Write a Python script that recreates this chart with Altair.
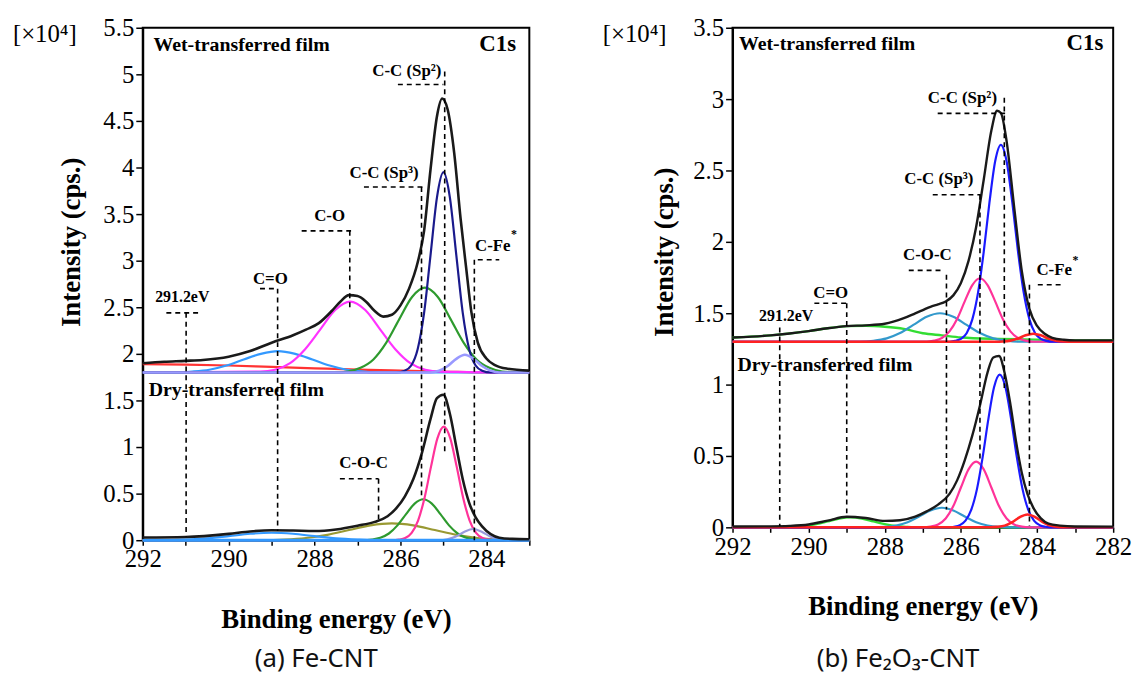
import altair as alt
import pandas as pd

SERIF = "Liberation Serif, Times New Roman, Tinos, serif"

# ---------------- data: (binding energy eV, intensity x1e4) ----------------
A_WET_BG = [(292, 1.89), (291, 1.885), (290, 1.875), (289, 1.86), (288, 1.845), (287, 1.83),
            (286, 1.82), (285, 1.81), (284, 1.80), (283, 1.80)]
A_WET_CO2 = [(292, 1.80), (291.25, 1.80), (290.85, 1.81), (290.45, 1.83), (290.05, 1.875), (289.65, 1.94),
             (289.25, 2.00), (288.85, 2.03), (288.45, 2.00), (288.05, 1.94), (287.65, 1.875), (287.25, 1.83),
             (286.85, 1.81), (286.45, 1.80), (283, 1.80)]
A_WET_CO = [(292, 1.80), (289.27, 1.81), (288.92, 1.83), (288.57, 1.90), (288.22, 2.05), (287.87, 2.26),
            (287.52, 2.47), (287.17, 2.56), (286.82, 2.47), (286.47, 2.26), (286.12, 2.05), (285.77, 1.90),
            (285.42, 1.83), (285.07, 1.81), (283, 1.80)]
A_WET_SP3 = [(292, 1.80), (287.53, 1.80), (287.23, 1.81), (286.93, 1.85), (286.63, 1.94), (286.33, 2.12),
             (286.03, 2.37), (285.73, 2.61), (285.43, 2.71), (285.13, 2.61), (284.83, 2.37), (284.53, 2.12),
             (284.23, 1.94), (283.93, 1.85), (283.63, 1.81), (283, 1.80)]
A_WET_SP2 = [(292, 1.80), (286.1, 1.80), (285.9, 1.82), (285.75, 1.875), (285.6, 2.05), (285.45, 2.44),
             (285.3, 3.06), (285.15, 3.68), (285.0, 3.95), (284.85, 3.68), (284.7, 3.06), (284.55, 2.44),
             (284.4, 2.05), (284.25, 1.875), (284.1, 1.82), (283.9, 1.80), (283, 1.80)]
A_WET_CFE = [(292, 1.80), (285.3, 1.80), (285.1, 1.82), (284.9, 1.87), (284.7, 1.947), (284.5, 1.99),
             (284.3, 1.947), (284.1, 1.87), (283.9, 1.82), (283.7, 1.80), (283, 1.80)]
A_WET_ENV = [(292, 1.90), (291.5, 1.915), (291, 1.925), (290.6, 1.935), (290, 1.97), (289.5, 2.03),
             (289, 2.12), (288.5, 2.20), (288.2, 2.26), (287.9, 2.33), (287.6, 2.46), (287.4, 2.56),
             (287.2, 2.63), (287.0, 2.62), (286.8, 2.56), (286.6, 2.46), (286.4, 2.40), (286.2, 2.42),
             (286.0, 2.52), (285.8, 2.70), (285.6, 2.98), (285.45, 3.32), (285.3, 3.98), (285.15, 4.55),
             (285.03, 4.74), (284.9, 4.62), (284.75, 4.16), (284.6, 3.45), (284.47, 2.92), (284.35, 2.45),
             (284.2, 2.12), (284.0, 1.95), (283.8, 1.88), (283.5, 1.84), (283.0, 1.82)]

A_DRY_BASE = [(292, 0.0), (283, 0.0)]
A_DRY_CO2 = [(292, 0.0), (291.5, 0.0), (291, 0.007), (290.5, 0.02), (290, 0.043), (289.5, 0.069), (289, 0.08),
             (288.5, 0.069), (288, 0.043), (287.5, 0.02), (287, 0.007), (286.5, 0.0), (283, 0.0)]
A_DRY_COC = [(292, 0.0), (289.2, 0.002), (288.7, 0.008), (288.2, 0.024), (287.7, 0.058), (287.2, 0.109),
             (286.7, 0.159), (286.2, 0.18), (285.7, 0.159), (285.2, 0.109), (284.7, 0.058), (284.2, 0.024),
             (283.7, 0.008), (283.2, 0.002), (283, 0.0)]
A_DRY_SP3 = [(292, 0.0), (286.87, 0.0), (286.67, 0.007), (286.47, 0.026), (286.27, 0.072), (286.07, 0.159),
             (285.87, 0.28), (285.67, 0.393), (285.47, 0.44), (285.27, 0.393), (285.07, 0.28), (284.87, 0.159),
             (284.67, 0.072), (284.47, 0.026), (284.27, 0.007), (284.07, 0.0), (283, 0.0)]
A_DRY_SP2 = [(292, 0.0), (286.19, 0.0), (286.04, 0.006), (285.89, 0.023), (285.74, 0.079), (285.59, 0.211),
             (285.44, 0.454), (285.29, 0.787), (285.14, 1.093), (284.99, 1.22), (284.84, 1.093), (284.69, 0.787),
             (284.54, 0.454), (284.39, 0.211), (284.24, 0.079), (284.09, 0.023), (283.94, 0.006), (283.79, 0.0),
             (283, 0.0)]
A_DRY_CFE = [(292, 0.0), (285.11, 0.0), (284.91, 0.01), (284.71, 0.04), (284.51, 0.091), (284.31, 0.12),
             (284.11, 0.091), (283.91, 0.04), (283.71, 0.01), (283.51, 0.0), (283, 0.0)]
A_DRY_ENV = [(292, 0.030), (291, 0.035), (290, 0.068), (289.5, 0.094), (289, 0.107), (288.5, 0.104),
             (288, 0.099), (287.5, 0.116), (287, 0.156), (286.6, 0.197), (286.3, 0.258), (286.1, 0.341),
             (285.9, 0.468), (285.7, 0.657), (285.5, 0.938), (285.3, 1.302), (285.15, 1.524), (285.0, 1.561),
             (284.85, 1.357), (284.7, 1.003), (284.55, 0.654), (284.4, 0.401), (284.25, 0.246), (284.1, 0.148),
             (283.9, 0.065), (283.7, 0.027), (283.4, 0.014), (283, 0.011)]

B_WET_GRN = [(292, 1.33), (291, 1.345), (290, 1.375), (289.5, 1.395), (289, 1.41), (288.5, 1.412), (288, 1.405),
             (287.5, 1.39), (287, 1.36), (286.5, 1.345), (286, 1.33), (285, 1.32), (284, 1.315), (283, 1.31),
             (282, 1.31)]
B_WET_COC = [(292, 1.30), (288.65, 1.30), (288.3, 1.307), (287.95, 1.324), (287.6, 1.361), (287.25, 1.418),
             (286.9, 1.475), (286.55, 1.50), (286.2, 1.475), (285.85, 1.418), (285.5, 1.361), (285.15, 1.324),
             (284.8, 1.307), (284.45, 1.30), (282, 1.30)]
B_WET_SP3 = [(292, 1.30), (286.9, 1.30), (286.7, 1.308), (286.5, 1.326), (286.3, 1.373), (286.1, 1.46),
             (285.9, 1.583), (285.7, 1.697), (285.5, 1.745), (285.3, 1.697), (285.1, 1.583), (284.9, 1.46),
             (284.7, 1.373), (284.5, 1.326), (284.3, 1.308), (284.1, 1.30), (282, 1.30)]
B_WET_SP2 = [(292, 1.30), (286.3, 1.30), (286.15, 1.306), (286.0, 1.32), (285.85, 1.36), (285.7, 1.457),
             (285.55, 1.644), (285.4, 1.932), (285.25, 2.276), (285.1, 2.565), (284.95, 2.68), (284.8, 2.565),
             (284.65, 2.276), (284.5, 1.932), (284.35, 1.644), (284.2, 1.457), (284.05, 1.36), (283.9, 1.32),
             (283.75, 1.306), (283.6, 1.30), (282, 1.30)]
B_WET_CFE = [(292, 1.30), (285.1, 1.30), (284.9, 1.302), (284.7, 1.308), (284.5, 1.323), (284.3, 1.345),
             (284.1, 1.356), (283.9, 1.345), (283.7, 1.323), (283.5, 1.308), (283.3, 1.302), (283.1, 1.30),
             (282, 1.30)]
B_WET_ENV = [(292, 1.33), (291.5, 1.336), (291, 1.345), (290.5, 1.358), (290, 1.375), (289.5, 1.395),
             (289, 1.41), (288.5, 1.415), (288, 1.426),
             (287.5, 1.465), (287.2, 1.499), (287.0, 1.522), (286.8, 1.545), (286.6, 1.562), (286.4, 1.582),
             (286.2, 1.625), (286.0, 1.712), (285.8, 1.867), (285.6, 2.104), (285.4, 2.437), (285.2, 2.78),
             (285.05, 2.918), (284.95, 2.903), (284.8, 2.706), (284.6, 2.24), (284.4, 1.794), (284.2, 1.53),
             (284.0, 1.411), (283.8, 1.356), (283.6, 1.328), (283.3, 1.314), (283, 1.31), (282, 1.31)]

B_DRY_GRN = [(292, 0.0), (290.7, 0.0), (290.4, 0.003), (290.1, 0.009), (289.8, 0.023), (289.5, 0.042),
             (289.2, 0.062), (288.9, 0.07), (288.6, 0.062), (288.3, 0.042), (288.0, 0.023), (287.7, 0.009),
             (287.4, 0.003), (287.1, 0.0), (282, 0.0)]
B_DRY_COC = [(292, 0.0), (288.3, 0.0), (288.0, 0.003), (287.7, 0.013), (287.4, 0.036), (287.1, 0.076),
             (286.8, 0.118), (286.5, 0.137), (286.2, 0.118), (285.9, 0.076), (285.6, 0.036), (285.3, 0.013),
             (285.0, 0.003), (284.7, 0.0), (282, 0.0)]
B_DRY_SP3 = [(292, 0.0), (287.0, 0.0), (286.8, 0.005), (286.6, 0.02), (286.4, 0.062), (286.2, 0.149),
             (286.0, 0.279), (285.8, 0.406), (285.6, 0.46), (285.4, 0.406), (285.2, 0.279), (285.0, 0.149),
             (284.8, 0.062), (284.6, 0.02), (284.4, 0.005), (284.2, 0.0), (282, 0.0)]
B_DRY_SP2 = [(292, 0.0), (286.33, 0.0), (286.18, 0.004), (286.03, 0.015), (285.88, 0.047), (285.73, 0.122),
             (285.58, 0.266), (285.43, 0.49), (285.28, 0.756), (285.13, 0.981), (284.98, 1.07), (284.83, 0.981),
             (284.68, 0.756), (284.53, 0.49), (284.38, 0.266), (284.23, 0.122), (284.08, 0.047), (283.93, 0.015),
             (283.78, 0.004), (283.63, 0.0), (282, 0.0)]
B_DRY_CFE = [(292, 0.0), (285.25, 0.0), (285.05, 0.003), (284.85, 0.012), (284.65, 0.037), (284.45, 0.072),
             (284.25, 0.09), (284.05, 0.072), (283.85, 0.037), (283.65, 0.012), (283.45, 0.003), (283.25, 0.0),
             (282, 0.0)]
B_DRY_ENV = [(292, 0.006), (291, 0.007), (290.5, 0.010), (290, 0.020), (289.5, 0.047), (289, 0.074),
             (288.5, 0.065), (288, 0.045), (287.6, 0.050), (287.2, 0.075), (286.9, 0.112), (286.6, 0.159),
             (286.3, 0.234), (286.1, 0.329), (285.9, 0.469), (285.7, 0.644), (285.5, 0.854), (285.3, 1.086),
             (285.15, 1.19), (285.0, 1.20), (284.85, 1.08), (284.7, 0.861), (284.55, 0.599), (284.4, 0.381),
             (284.25, 0.233), (284.1, 0.138), (283.9, 0.063), (283.7, 0.026), (283.4, 0.012), (283, 0.006),
             (282, 0.005)]

A_DASH = [(286.06, 4.89, 285.0, 4.89), (284.97, 5.03, 284.97, 0.94),
          (286.85, 3.79, 285.42, 3.79), (285.51, 3.79, 285.51, 0.44),
          (288.30, 3.32, 287.15, 3.32), (287.18, 3.32, 287.18, 2.48),
          (289.27, 2.70, 288.86, 2.70), (288.86, 2.70, 288.86, 0.10),
          (291.45, 2.44, 290.64, 2.44), (290.99, 2.44, 290.99, 0.04),
          (284.20, 3.01, 283.70, 3.01), (284.28, 3.01, 284.28, 0.0),
          (287.41, 0.66, 286.51, 0.66), (286.51, 0.66, 286.51, 0.19)]
B_DASH = [(286.61, 2.90, 284.74, 2.90), (284.86, 3.01, 284.86, 0.97),
          (286.74, 2.33, 285.48, 2.33), (285.50, 2.33, 285.50, 0.47),
          (287.37, 1.80, 286.48, 1.80), (286.38, 1.77, 286.38, 0.125),
          (289.85, 1.57, 289.00, 1.57), (289.00, 1.57, 289.00, 0.07),
          (290.76, 1.40, 290.76, 0.01),
          (283.98, 1.70, 283.37, 1.70), (284.20, 1.70, 284.20, 0.01)]

A_FILM = [("Wet-transferred film", 291.75, 5.245), ("Dry-transferred film", 291.86, 1.545)]
A_C1S = [("C1s", 283.31, 5.245)]
A_PEAK = [("C-C (Sp²)", 285.85, 4.98), ("C-C (Sp³)", 286.38, 3.89), ("C-O", 287.65, 3.43),
          ("C=O", 289.03, 2.75), ("C-O-C", 286.86, 0.77), ("C-Fe", 283.85, 3.10)]
A_EV = [("291.2eV", 291.08, 2.556)]
A_STAR = [("*", 283.36, 3.245)]

B_FILM = [("Wet-transferred film", 291.83, 3.342), ("Dry-transferred film", 291.87, 1.097)]
B_C1S = [("C1s", 282.26, 3.342)]
B_PEAK = [("C-C (Sp²)", 285.96, 2.97), ("C-C (Sp³)", 286.58, 2.405), ("C-O-C", 286.88, 1.873),
          ("C=O", 289.42, 1.606), ("C-Fe", 283.55, 1.77)]
B_EV = [("291.2eV", 290.59, 1.444)]
B_STAR = [("*", 282.99, 1.847)]

A_XTICKS = list(range(283, 293))
B_XTICKS = list(range(282, 293))
A_YTICKS = [i * 0.5 for i in range(0, 12)]
B_YTICKS = [i * 0.5 for i in range(0, 8)]


def pts(p):
    return pd.DataFrame(p, columns=["e", "v"])


def lbl(p):
    return pd.DataFrame(p, columns=["t", "e", "v"])


def panel(xdom, xticks, ydom, yticks, w, h, curves, dashes, film, c1s, peaks, ev, star,
          ytx, yty, caption, cap_x):
    X = alt.X("e:Q", scale=alt.Scale(domain=xdom, reverse=True, nice=False, zero=False),
              axis=alt.Axis(values=xticks, format="d",
                            labelExpr="datum.value % 2 == 0 ? datum.label : ''",
                            title="Binding energy (eV)", titleFont=SERIF, titleFontSize=27,
                            titleFontWeight="bold", titleColor="black", titlePadding=35,
                            labelFont=SERIF, labelFontSize=25, labelColor="black", labelPadding=2,
                            labelFlush=False, labelOverlap=False,
                            tickSize=5, tickWidth=1.5, tickColor="black",
                            domainColor="black", domainWidth=2, grid=False))
    Y = alt.Y("v:Q", scale=alt.Scale(domain=ydom, nice=False, zero=False),
              axis=alt.Axis(values=yticks, format=".1~f",
                            title="Intensity (cps.)", titleFont=SERIF, titleFontSize=27,
                            titleFontWeight="bold", titleColor="black", titleAngle=270,
                            titleX=ytx, titleY=yty, titleAlign="center", titleBaseline="alphabetic",
                            labelFont=SERIF, labelFontSize=25, labelColor="black", labelPadding=2,
                            labelFlush=False, labelOverlap=False,
                            tickSize=7, tickWidth=1.5, tickColor="black",
                            domainColor="black", domainWidth=2, grid=False))
    layers = []
    for p, color, sw in curves:
        layers.append(alt.Chart(pts(p)).mark_line(color=color, strokeWidth=sw, interpolate="monotone")
                      .encode(x=X, y=Y))
    ddf = pd.DataFrame(dashes, columns=["e", "v", "e2", "v2"])
    layers.append(alt.Chart(ddf).mark_rule(color="black", strokeWidth=1.6, strokeDash=[5, 4])
                  .encode(x=X, y=Y, x2="e2:Q", y2="v2:Q"))
    layers.append(alt.Chart(lbl(film)).mark_text(font=SERIF, fontWeight="bold", fontSize=20, align="left",
                                                 baseline="alphabetic", color="black")
                  .encode(x=X, y=Y, text="t:N"))
    layers.append(alt.Chart(lbl(c1s)).mark_text(font=SERIF, fontWeight="bold", fontSize=23, align="right",
                                                baseline="alphabetic", color="black")
                  .encode(x=X, y=Y, text="t:N"))
    layers.append(alt.Chart(lbl(peaks)).mark_text(font=SERIF, fontWeight="bold", fontSize=17, align="center",
                                                  baseline="alphabetic", color="black")
                  .encode(x=X, y=Y, text="t:N"))
    layers.append(alt.Chart(lbl(ev)).mark_text(font=SERIF, fontWeight="bold", fontSize=16, align="center",
                                               baseline="alphabetic", color="black")
                  .encode(x=X, y=Y, text="t:N"))
    layers.append(alt.Chart(lbl(star)).mark_text(font=SERIF, fontWeight="bold", fontSize=12, align="center",
                                                 baseline="alphabetic", color="black")
                  .encode(x=X, y=Y, text="t:N"))
    layers.append(alt.Chart(pd.DataFrame({"t": ["[×10⁴]"]}))
                  .mark_text(font=SERIF, fontSize=25, align="left", baseline="alphabetic", color="black")
                  .encode(x=alt.value(-131), y=alt.value(14), text="t:N"))
    layers.append(alt.Chart(pd.DataFrame({"t": [caption]}))
                  .mark_text(font="Noto Sans", fontSize=26, align="center", baseline="middle", color="#111111")
                  .encode(x=alt.value(cap_x), y=alt.value(637), text="t:N"))
    return alt.layer(*layers).properties(width=w, height=h)


ENV_C = "#1a1a1a"
left = panel([283, 292], A_XTICKS, [0, 5.5], A_YTICKS, 390, 517,
             [(A_WET_BG, "#ff3333", 2.2), (A_WET_CO2, "#3399ff", 2.2), (A_WET_CO, "#ff33ff", 2.2),
              (A_WET_SP3, "#2e9a2e", 2.2), (A_WET_SP2, "#1a1a8c", 2.2), (A_WET_CFE, "#9999ff", 2.6),
              (A_WET_ENV, ENV_C, 2.6),
              (A_DRY_COC, "#999933", 2.2), (A_DRY_CO2, "#3399ff", 2.2), (A_DRY_SP3, "#2e9a2e", 2.2),
              (A_DRY_SP2, "#ff3399", 2.2), (A_DRY_CFE, "#9999dd", 2.2), (A_DRY_BASE, "#3399ff", 3.2),
              (A_DRY_ENV, ENV_C, 2.6)],
             A_DASH, A_FILM, A_C1S, A_PEAK, A_EV, A_STAR, -64, 216, "(a) Fe-CNT", 175)

right = panel([282, 292], B_XTICKS, [0, 3.5], B_YTICKS, 384, 504,
              [(B_WET_GRN, "#33dd33", 2.4), (B_WET_COC, "#3399cc", 2.2), (B_WET_SP3, "#ff3399", 2.2),
               (B_WET_SP2, "#1a1aff", 2.2), (B_WET_CFE, "#ff2222", 2.6), (B_WET_ENV, ENV_C, 2.4),
               (B_DRY_GRN, "#33dd33", 2.4), (B_DRY_COC, "#3399cc", 2.2), (B_DRY_SP3, "#ff3399", 2.2),
               (B_DRY_SP2, "#1a1aff", 2.2), (B_DRY_CFE, "#ff2222", 2.6), (B_DRY_ENV, ENV_C, 2.4)],
              B_DASH, B_FILM, B_C1S, B_PEAK, B_EV, B_STAR, -61, 226, "(b) Fe₂O₃-CNT", 167)

chart = (alt.hconcat(left, right, spacing=65)
         .properties(padding={"left": 12, "top": 12, "right": 0, "bottom": 0})
         .configure(background="white")
         .configure_view(stroke="black", strokeWidth=2))

chart.save("out.html", embed_options={"renderer": "svg", "actions": False})
